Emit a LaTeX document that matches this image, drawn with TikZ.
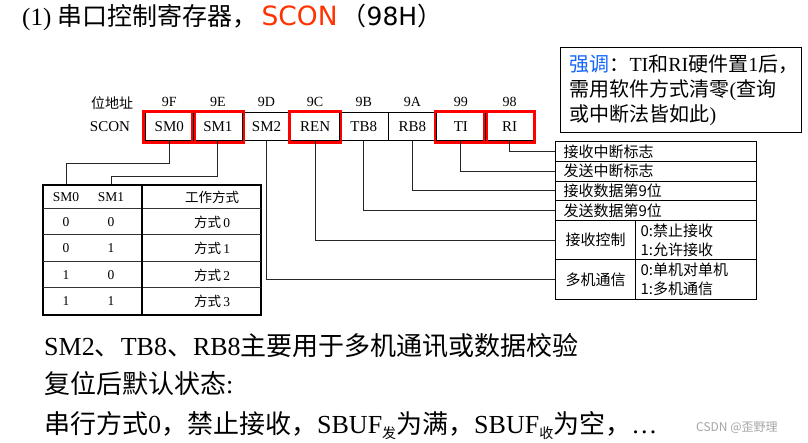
\documentclass[tikz,border=0pt]{standalone}
\usepackage{fontspec}
\setmainfont{Liberation Serif}
\newfontfamily\cjk{Noto Sans CJK SC}
\newfontfamily\verd{DejaVu Sans}
\newcommand\zh[1]{{\cjk #1}}
\newcommand\subzh[1]{\raisebox{-5pt}{\cjk\fontsize{14}{14}\selectfont #1}}
\definecolor{sconred}{RGB}{255,51,0}
\definecolor{tipblue}{RGB}{20,100,255}

\begin{document}
\begin{tikzpicture}[x=1pt, y=-1pt,
    every node/.style={inner sep=0pt},
    cell/.style={draw, line width=1pt, minimum width=48.6pt, minimum height=28pt, font=\fontsize{15}{15}\selectfont},
    hot/.style={draw=red, line width=2.4pt},
    addr/.style={font=\fontsize{14}{14}\selectfont},
    wire/.style={line width=1pt, black!85},
    row/.style={draw, line width=1pt, anchor=west, minimum height=19.7pt, text width=185pt, inner xsep=8pt, align=left, font=\cjk\fontsize{15}{15}\selectfont},
    half/.style={draw, line width=1pt, anchor=west, minimum height=39.5pt, font=\cjk\fontsize{15}{19}\selectfont},
    tcell/.style={font=\fontsize{13.5}{13.5}\selectfont},
    txt/.style={anchor=west, font=\fontsize{26}{26}\selectfont}]
      \fill[white] (0,0) rectangle (808,443);
      \useasboundingbox (0,0) rectangle (808,443);
      % title
      \node[anchor=west, font=\fontsize{25}{25}\selectfont] (title) at (22,17)
        {(1) \zh{串口控制寄存器，}\hspace{4pt}{\color{sconred}\verd\fontsize{26.5}{26.5}\selectfont SCON}\hspace{4pt}\zh{（}{\verd 98H}\zh{）}};
      % register
      \draw
        (112,103) node[addr] (lbl) {\zh{位地址}}
        (110,127) node[addr, font=\fontsize{15}{15}\selectfont] (reg) {SCON}
        (169.3,102) node[addr] (a9f) {9F}
        (217.9,102) node[addr] (a9e) {9E}
        (266.5,102) node[addr] (a9d) {9D}
        (315.1,102) node[addr] (a9c) {9C}
        (363.7,102) node[addr] (a9b) {9B}
        (412.3,102) node[addr] (a9a) {9A}
        (460.9,102) node[addr] (a99) {99}
        (509.5,102) node[addr] (a98) {98};
      \draw
        (169.3,127) node[cell] (sm0) {SM0}
        (217.9,127) node[cell] (sm1) {SM1}
        (266.5,127) node[cell] (sm2) {SM2}
        (315.1,127) node[cell] (ren) {REN}
        (363.7,127) node[cell] (tb8) {TB8}
        (412.3,127) node[cell] (rb8) {RB8}
        (460.9,127) node[cell] (ti) {TI}
        (509.5,127) node[cell] (ri) {RI};
      \draw[hot] ([shift={(-1,-1)}]sm0.north west) rectangle ([shift={(1,1)}]sm0.south east);
      \draw[hot] ([shift={(-1,-1)}]sm1.north west) rectangle ([shift={(1,1)}]sm1.south east);
      \draw[hot] ([shift={(-1,-1)}]ren.north west) rectangle ([shift={(1,1)}]ren.south east);
      \draw[hot] ([shift={(-1,-1)}]ti.north west) rectangle ([shift={(1,1)}]ti.south east);
      \draw[hot] ([shift={(-1,-1)}]ri.north west) rectangle ([shift={(0,1)}]ri.south east);
      % note
      \node[draw, line width=1pt, anchor=north west, minimum width=241pt, minimum height=85pt,
            text width=223pt, inner xsep=9pt, align=left, font=\fontsize{20}{25}\selectfont] (tip) at (560,47)
        {{\color{tipblue}\zh{强调}}\zh{：}TI\zh{和}RI\zh{硬件置}1\zh{后，}\\
         \zh{需用软件方式清零}(\zh{查询}\\
         \zh{或中断法皆如此})};
      % bit meanings
      \node[row] (r1) at (555,151.55) {接收中断标志};
      \node[row] (r2) at (555,171.25) {发送中断标志};
      \node[row] (r3) at (555,190.95) {接收数据第9位};
      \node[row] (r4) at (555,210.65) {发送数据第9位};
      \node[half, minimum width=80pt] (r5) at (555,240.25) {接收控制};
      \node[half, text width=111pt, inner xsep=5pt, align=left] (r5b) at (635,240.25) {0:禁止接收\\1:允许接收};
      \node[half, minimum width=80pt] (r6) at (555,279.75) {多机通信};
      \node[half, text width=111pt, inner xsep=5pt, align=left] (r6b) at (635,279.75) {0:单机对单机\\1:多机通信};
      % mode table
      \node[draw, line width=1.6pt, minimum width=218pt, minimum height=130pt] (tab) at (152,250) {};
      \draw[line width=1pt, black!80] (43,209) -- (261,209) (43,235) -- (261,235)
        (43,262) -- (261,262) (43,288) -- (261,288);
      \draw[line width=1.2pt] (142,185) -- (142,315);
      \draw
        (66,197) node[tcell] (hsm0) {SM0}
        (111,197) node[tcell] (hsm1) {SM1}
        (212,197) node[tcell] (hmode) {\zh{工作方式}}
        (66,222) node[tcell] (m0a) {0}
        (111,222) node[tcell] (m0b) {0}
        (212,222) node[tcell] (m0) {\zh{方式}\,0}
        (66,248.5) node[tcell] (m1a) {0}
        (111,248.5) node[tcell] (m1b) {1}
        (212,248.5) node[tcell] (m1) {\zh{方式}\,1}
        (66,275) node[tcell] (m2a) {1}
        (111,275) node[tcell] (m2b) {0}
        (212,275) node[tcell] (m2) {\zh{方式}\,2}
        (66,301.5) node[tcell] (m3a) {1}
        (111,301.5) node[tcell] (m3b) {1}
        (212,301.5) node[tcell] (m3) {\zh{方式}\,3};
      \begin{scope}[wire]
        \draw (sm0.south) -- ++(0,22) -| (hsm0 |- tab.north);
        \draw (sm1.south) -- ++(0,35) -| (hsm1 |- tab.north);
        \draw (sm2.south) |- (r6.west);
        \draw (ren.south) |- (r5.west);
        \draw (tb8.south) |- (r4.west);
        \draw (rb8.south) |- (r3.west);
        \draw (ti.south) |- (r2.west);
        \draw (ri.south) |- (r1.west);
      \end{scope}
      % remarks
      \node[txt] (l1) at (44,346) {SM2\zh{、}TB8\zh{、}RB8\zh{主要用于多机通讯或数据校验}};
      \node[txt] (l2) at (44,384) {\zh{复位后默认状态}:};
      \node[txt] (l3) at (44,426) {\zh{串行方式}0\zh{，禁止接收，}SBUF\subzh{发}\zh{为满，}SBUF\subzh{收}\zh{为空，}…};
      \node[anchor=west, text=black!35, font=\cjk\fontsize{12}{12}\selectfont] (mark) at (696,428) {CSDN @歪野理};
    \end{tikzpicture}
\end{document}
